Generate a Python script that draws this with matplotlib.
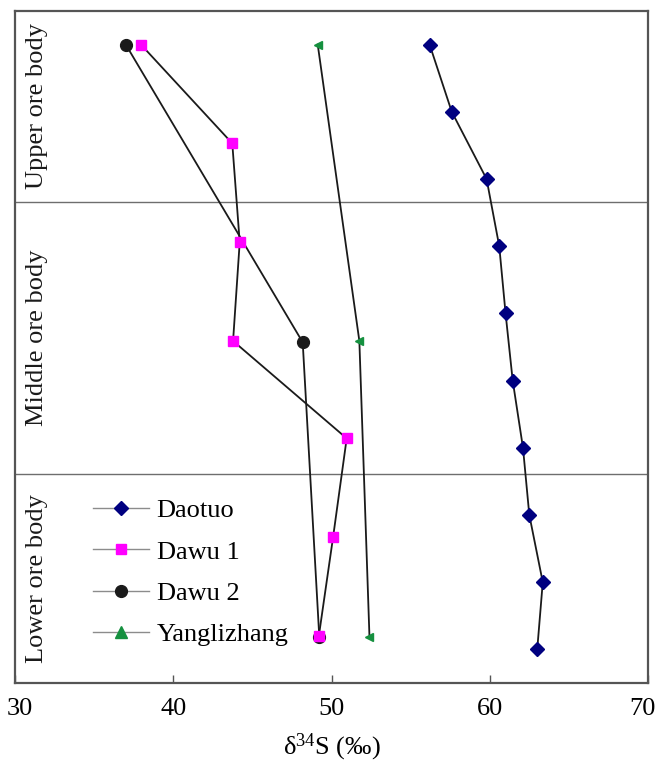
import matplotlib
matplotlib.use("Agg")
import matplotlib.pyplot as plt
from matplotlib.lines import Line2D
from matplotlib.transforms import ScaledTranslation

plt.rcParams['font.family'] = ['Liberation Serif', 'DejaVu Serif']

# Relative sampling depth within the deposit (0 = top, 100 = bottom)
daotuo_depth = [5, 15, 25, 35, 45, 55, 65, 75, 85, 95]
daotuo_d34s = [56.2, 57.6, 59.8, 60.6, 61.0, 61.45, 62.1, 62.5, 63.35, 63.0]

dawu1_depth = [5, 19.7, 34.4, 49.1, 63.6, 78.3, 93.0]
dawu1_d34s = [37.96, 43.73, 44.2, 43.78, 50.96, 50.1, 49.2]

dawu2_depth = [5, 49.3, 93.2]
dawu2_d34s = [37.0, 48.18, 49.23]

yang_depth = [5, 49.1, 93.2]
yang_d34s = [49.13, 51.76, 52.4]

# Ore body boundaries and labels
boundaries = [28.4, 68.9]
body_names = ["Upper ore body", "Middle ore body", "Lower ore body"]
body_centers = [14.2, 48.6, 84.5]

x_ticks = [30, 40, 50, 60, 70]

FS = 19

fig = plt.figure(figsize=(6.56, 7.65), dpi=100)
ax = fig.add_axes([15 / 656, 1 - 683 / 765, 633 / 656, 672 / 765])

ax.set_xlim(30, 70)
ax.set_ylim(100, 0)

for b in boundaries:
    ax.axhline(b, color="#6e6e6e", lw=1.0, zorder=1)

line_kw = dict(color="#1a1a1a", lw=1.3)
ax.plot(daotuo_d34s, daotuo_depth, marker="D", ms=7, mfc="#000080", mec="#000080",
        zorder=3, **line_kw)
ax.plot(dawu2_d34s, dawu2_depth, marker="o", ms=8.5, mfc="#1a1a1a", mec="#1a1a1a",
        zorder=3, **line_kw)
ax.plot(dawu1_d34s, dawu1_depth, marker="s", ms=7.5, mfc="#ff00ff", mec="#ff00ff",
        zorder=4, **line_kw)
ax.plot(yang_d34s, yang_depth, marker="<", ms=6, mfc="#15903f", mec="#15903f",
        zorder=3, **line_kw)

for name, yc in zip(body_names, body_centers):
    ax.text(0.034, yc, name, transform=ax.get_yaxis_transform(), rotation=90,
            ha="center", va="center", fontsize=FS, color="#1a1a1a")

handles = [
    Line2D([], [], color="#8c8c8c", lw=1.0, marker="D", ms=7, mfc="#000080", mec="#000080"),
    Line2D([], [], color="#8c8c8c", lw=1.0, marker="s", ms=7.5, mfc="#ff00ff", mec="#ff00ff"),
    Line2D([], [], color="#8c8c8c", lw=1.0, marker="o", ms=8.5, mfc="#1a1a1a", mec="#1a1a1a"),
    Line2D([], [], color="#8c8c8c", lw=1.0, marker="^", ms=8, mfc="#15903f", mec="#15903f"),
]
labels = ["Daotuo", "Dawu 1", "Dawu 2", "Yanglizhang"]
ax.legend(handles, labels, loc="upper left", bbox_to_anchor=(0.107, 0.29),
          frameon=False, fontsize=FS, handlelength=2.1, handletextpad=0.3,
          labelspacing=0.68, borderaxespad=0)

ax.set_xticks(x_ticks)
ax.set_xticklabels([str(t) for t in x_ticks], fontsize=FS)
ax.tick_params(axis="x", direction="in", length=6, width=1, color="#555555", pad=11)
ticklabels = ax.get_xticklabels()
ticklabels[0].set_transform(ticklabels[0].get_transform()
                            + ScaledTranslation(5 / 100, 0, fig.dpi_scale_trans))
ticklabels[-1].set_transform(ticklabels[-1].get_transform()
                             + ScaledTranslation(-6 / 100, 0, fig.dpi_scale_trans))
ax.set_yticks([])
for s in ax.spines.values():
    s.set_color("#555555")
    s.set_linewidth(1.6)

ax.set_xlabel(r"$\mathregular{\delta^{34}S}$ (‰)", fontsize=FS, labelpad=8)

fig.savefig("out.png", dpi=100)
